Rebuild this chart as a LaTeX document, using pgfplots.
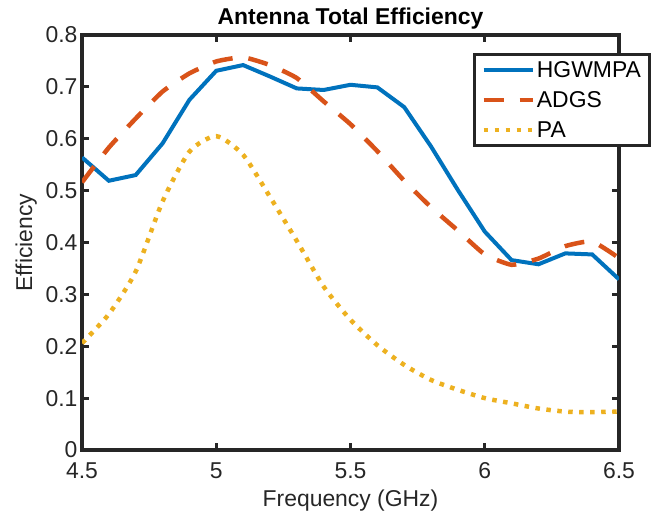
\documentclass[border=0pt]{standalone}
\usepackage{fontspec}
\setmainfont{Liberation Sans}
\usepackage{pgfplots}
\pgfplotsset{compat=1.18}
\definecolor{mblue}{rgb}{0,0.447,0.741}
\definecolor{morange}{rgb}{0.85,0.325,0.098}
\definecolor{myellow}{rgb}{0.929,0.694,0.125}
\definecolor{axgray}{RGB}{38,38,38}
\begin{document}
\begin{tikzpicture}[x=1bp,y=1bp]
\begin{axis}[
  at={(82bp,68bp)}, anchor=south west,
  scale only axis, width=537bp, height=415bp,
  xmin=4.5, xmax=6.5, ymin=0, ymax=0.8,
  xtick={4.5,5,5.5,6,6.5},
  ytick={0,0.1,0.2,0.3,0.4,0.5,0.6,0.7,0.8},
  tick align=inside, major tick length=7bp,
  axis line style={line width=3.5bp, draw=axgray},
  every tick/.style={draw=axgray, line width=3bp},
  /pgf/number format/assume math mode=true,
  tick label style={font=\fontsize{23}{26}\selectfont, text=axgray},
  xticklabel style={yshift=-9bp},
  yticklabel style={xshift=-1bp},
  label style={font=\fontsize{23}{26}\selectfont, text=axgray},
  xlabel={Frequency (GHz)}, ylabel={Efficiency},
  xlabel style={yshift=-4bp},
  ylabel style={yshift=2bp},
  title={Antenna Total Efficiency},
  title style={font=\fontsize{23}{26}\selectfont\bfseries, text=black, yshift=-4bp},
  legend style={at={(0.728,0.957)}, anchor=north west, draw=axgray, line width=3bp,
    font=\fontsize{23}{26}\selectfont, text=black, row sep=8.5bp, inner xsep=7bp, inner ysep=5bp},
  legend cell align=left,
  legend image code/.code={\draw[#1] (0bp,0bp) -- (49bp,0bp);},
]
\addplot[mblue, line width=4bp] coordinates {
(4.5,0.564) (4.6,0.519) (4.7,0.530) (4.8,0.591) (4.9,0.675) (5.0,0.731) (5.1,0.742)
(5.2,0.720) (5.3,0.697) (5.4,0.694) (5.5,0.704) (5.6,0.699) (5.7,0.661) (5.8,0.585)
(5.9,0.501) (6.0,0.421) (6.1,0.366) (6.2,0.358) (6.3,0.379) (6.4,0.377) (6.5,0.329)};
\addlegendentry{HGWMPA}
\addplot[morange, line width=4.5bp, dash pattern=on 20bp off 16bp, smooth, tension=0.3] coordinates {
(4.5,0.516) (4.6,0.583) (4.7,0.639) (4.8,0.691) (4.9,0.726) (5.0,0.749) (5.1,0.757)
(5.2,0.742) (5.3,0.717) (5.4,0.672) (5.5,0.628) (5.6,0.576) (5.7,0.519) (5.8,0.468)
(5.9,0.423) (6.0,0.377) (6.1,0.357) (6.2,0.369) (6.3,0.393) (6.4,0.402) (6.5,0.370)};
\addlegendentry{ADGS}
\addplot[myellow, line width=4.5bp, dash pattern=on 4.5bp off 6.5bp, smooth, tension=0.4] coordinates {
(4.5,0.206) (4.6,0.262) (4.7,0.344) (4.8,0.479) (4.9,0.575) (5.0,0.605) (5.1,0.569)
(5.2,0.488) (5.3,0.403) (5.4,0.315) (5.5,0.251) (5.6,0.202) (5.7,0.164) (5.8,0.135)
(5.9,0.116) (6.0,0.100) (6.1,0.090) (6.2,0.080) (6.3,0.074) (6.4,0.073) (6.5,0.074)};
\addlegendentry{PA}
\end{axis}
\pgfresetboundingbox
\path[use as bounding box] (0,0) rectangle (655,518);
\end{tikzpicture}
\end{document}
